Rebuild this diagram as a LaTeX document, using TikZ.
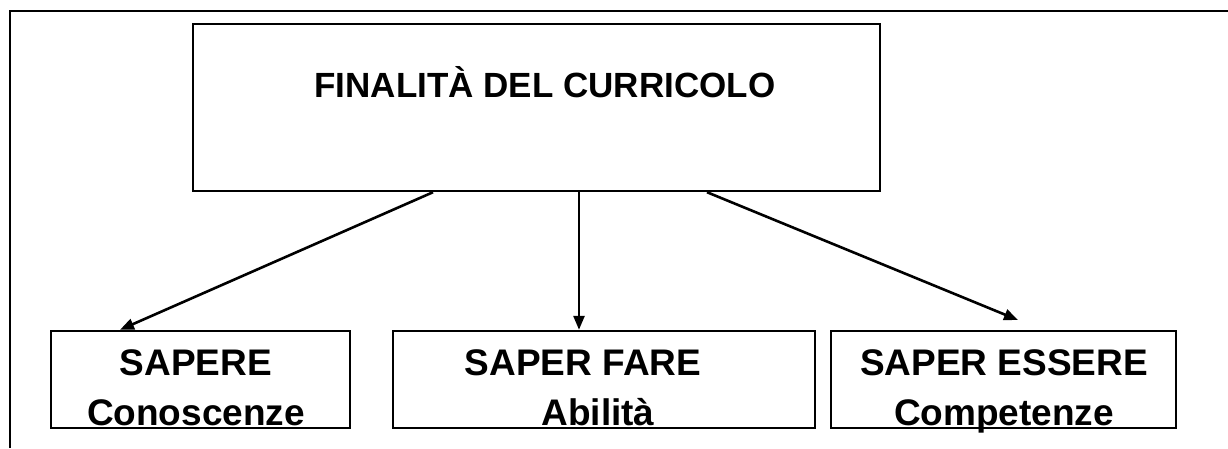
\documentclass[tikz,border=0pt]{standalone}
\usepackage{fontspec}
\setmainfont{Liberation Sans}
\usetikzlibrary{arrows.meta,positioning}

\begin{document}
\begin{tikzpicture}[x=1pt, y=-1pt,
    box/.style={rectangle, draw, line width=2.4pt, inner sep=0pt},
    boxtext/.style={align=center, inner sep=0pt, anchor=north, font=\bfseries\fontsize{37}{50}\selectfont},
    arrow/.style={-{Triangle[length=14pt,width=11pt]}, line width=2.6pt}]

    \useasboundingbox (0,0) rectangle (1228,448);
    % outer frame
    \draw[line width=2.8pt] (10,448) |- (1228,11);

    \node[box, minimum width=687pt, minimum height=167pt] (finalita) at (536.5,107.5) {};
    \node[boxtext, anchor=base, font=\bfseries\fontsize{35}{42}\selectfont] (titolo) at (545,97) {FINALITÀ DEL CURRICOLO};

    \node[box, minimum width=299pt, minimum height=97pt] (sapere) at (200.5,379.5) {};
    \node[box, minimum width=422pt, minimum height=97pt] (saperfare) at (604,379.5) {};
    \node[box, minimum width=345pt, minimum height=97pt] (saperessere) at (1003.5,379.5) {};

    \node[boxtext] (testosapere) at (196,349) {SAPERE\\Conoscenze};
    \node[boxtext] (testofare) at (598,349) {SAPER FARE\hspace*{30pt}\\Abilità};
    \node[boxtext] (testoessere) at (1004,349) {SAPER ESSERE\\Competenze};

    \coordinate (puntadx) at (1018,320);

    \draw[arrow] (finalita.south -| 433,0) -- (sapere.north -| 120,0);
    \draw[arrow] (finalita.south -| 579,0) -- (saperfare.north -| 579,0);
    \draw[arrow] (finalita.south -| 707,0) -- (puntadx);
\end{tikzpicture}
\end{document}
